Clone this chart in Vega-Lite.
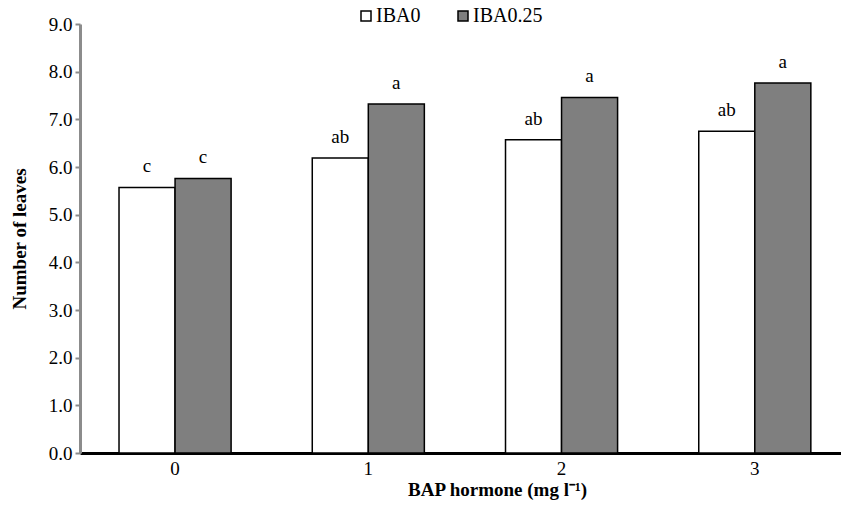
{
  "$schema": "https://vega.github.io/schema/vega-lite/v6.json",
  "width": 761,
  "height": 429,
  "autosize": {"type": "none"},
  "padding": {"left": 80, "top": 24, "right": 0, "bottom": 56},
  "background": "white",
  "config": {
    "view": {"stroke": null},
    "font": "Liberation Serif"
  },
  "data": {
    "values": [
      {"bap": "0", "iba": "IBA0", "leaves": 5.57, "sig": "c"},
      {"bap": "0", "iba": "IBA0.25", "leaves": 5.76, "sig": "c"},
      {"bap": "1", "iba": "IBA0", "leaves": 6.19, "sig": "ab"},
      {"bap": "1", "iba": "IBA0.25", "leaves": 7.32, "sig": "a"},
      {"bap": "2", "iba": "IBA0", "leaves": 6.57, "sig": "ab"},
      {"bap": "2", "iba": "IBA0.25", "leaves": 7.46, "sig": "a"},
      {"bap": "3", "iba": "IBA0", "leaves": 6.75, "sig": "ab"},
      {"bap": "3", "iba": "IBA0.25", "leaves": 7.76, "sig": "a"}
    ]
  },
  "encoding": {
    "x": {
      "field": "bap",
      "type": "nominal",
      "sort": ["0", "1", "2", "3"],
      "scale": {"paddingInner": 0.42, "paddingOuter": 0.179, "align": 0.564},
      "axis": {
        "title": "BAP hormone (mg l⁻¹)",
        "titleFont": "Liberation Serif",
        "titleFontSize": 19,
        "titleFontWeight": "bold",
        "titleColor": "black",
        "titlePadding": 2,
        "titleX": 417,
        "titleAlign": "center",
        "labelFont": "Liberation Serif",
        "labelFontSize": 19,
        "labelColor": "black",
        "labelAngle": 0,
        "labelPadding": 6,
        "ticks": false,
        "domainColor": "black",
        "domainWidth": 3
      }
    },
    "xOffset": {"field": "iba", "type": "nominal", "sort": ["IBA0", "IBA0.25"]},
    "y": {
      "field": "leaves",
      "type": "quantitative",
      "scale": {"domain": [0, 9], "nice": false},
      "axis": {
        "title": "Number of leaves",
        "titleFont": "Liberation Serif",
        "titleFontSize": 19,
        "titleFontWeight": "bold",
        "titleColor": "black",
        "titlePadding": 19,
        "labelFont": "Liberation Serif",
        "labelFontSize": 19,
        "labelColor": "black",
        "values": [0, 1, 2, 3, 4, 5, 6, 7, 8, 9],
        "format": ".1f",
        "grid": false,
        "domainColor": "#8c8c8c",
        "domainWidth": 3,
        "tickColor": "#8c8c8c",
        "tickWidth": 2,
        "tickSize": 5,
        "labelPadding": 3
      }
    }
  },
  "layer": [
    {
      "mark": {"type": "bar", "stroke": "black", "strokeWidth": 1.5},
      "encoding": {
        "fill": {
          "field": "iba",
          "type": "nominal",
          "scale": {"domain": ["IBA0", "IBA0.25"], "range": ["#ffffff", "#7f7f7f"]},
          "legend": {
            "title": null,
            "orient": "none",
            "direction": "horizontal",
            "legendX": 276,
            "legendY": -18,
            "symbolType": "square",
            "symbolSize": 100,
            "symbolStrokeColor": "black",
            "symbolStrokeWidth": 1.5,
            "labelFont": "Liberation Serif",
            "labelFontSize": 20,
            "labelColor": "black",
            "labelOffset": 0,
            "columnPadding": 32
          }
        }
      }
    },
    {
      "mark": {"type": "text", "baseline": "alphabetic", "dy": -15, "fontSize": 19, "font": "Liberation Serif", "color": "black"},
      "encoding": {
        "text": {"field": "sig", "type": "nominal"}
      }
    }
  ]
}
